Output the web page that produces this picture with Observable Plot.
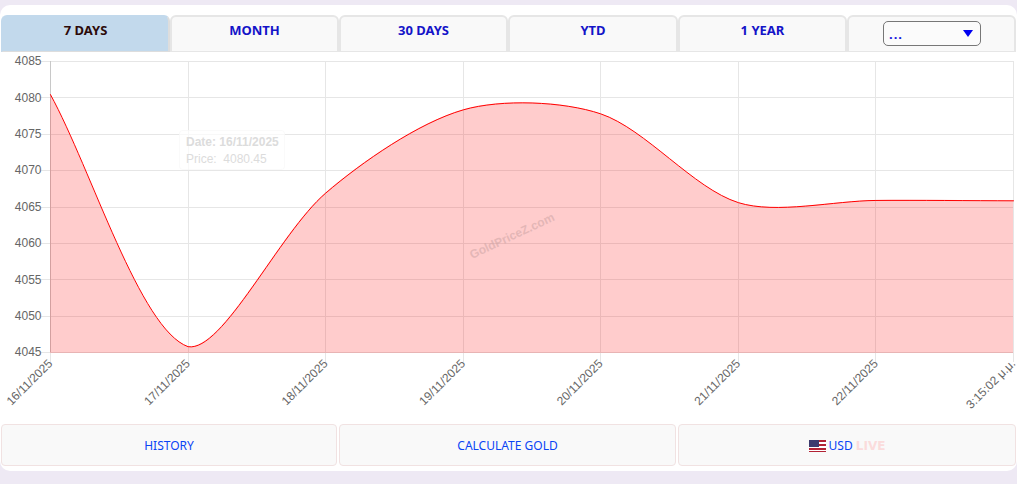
<!DOCTYPE html>
<html>
<head>
<meta charset="utf-8">
<script src="https://cdn.jsdelivr.net/npm/d3@7"></script>
<script src="https://cdn.jsdelivr.net/npm/@observablehq/plot@0.6"></script>
<style>
html,body{margin:0;padding:0;background:#eee9f4;width:1017px;height:484px;overflow:hidden;}
#panel{position:absolute;left:0;top:5px;width:1017px;height:466px;background:#fff;border-radius:10px;}
.tab,.btn{position:absolute;box-sizing:border-box;text-align:center;background:#f9f9f9;font-family:"Noto Sans",sans-serif;}
.tab{top:15px;height:37px;border:2px solid #e6e6e6;border-bottom-width:1px;border-radius:6px 6px 0 0;font-weight:700;font-size:13px;line-height:27px;color:#1414c8;}
.tab.on{background:#c2d9ec;border-color:#c2d9ec #ddd #ddd #c2d9ec;color:#2c0a0a;}
.btn{top:424px;height:42px;border:1px solid #f1e2e2;border-radius:4px;font-size:12px;line-height:42px;color:#0a44f5;}
#sel{position:absolute;left:883px;top:21px;width:98px;height:25px;box-sizing:border-box;border:1px solid #777;border-radius:5px;background:#fbfbfb;color:#1414e0;font:700 13px/24px "Noto Sans",sans-serif;padding-left:5px;letter-spacing:1px;}
#sel i{position:absolute;right:7px;top:8px;width:0;height:0;border-left:5px solid transparent;border-right:5px solid transparent;border-top:7px solid #0000f0;}
#chart{position:absolute;left:0;top:0;}
#chart svg{background:transparent;display:block;}
#tip{position:absolute;left:179px;top:130px;width:106px;height:40px;box-sizing:border-box;border:1px solid rgba(230,230,230,.2);border-radius:4px;background:rgba(255,255,255,.72);font:12px/17px "Liberation Sans",Arial,sans-serif;color:#dcdcdc;padding:3px 0 0 6px;white-space:pre;}
#tip b{font-weight:700;}
.live{color:#fbdcdc;font:700 12px "DejaVu Sans",sans-serif;}
.flag{display:inline-block;vertical-align:-2px;margin-right:3px;}
</style>
</head>
<body>
<div id="panel"></div>
<div id="chart"></div>
<div id="tip"><b>Date: 16/11/2025</b>
Price:  4080.45</div>
<div id="tabs"></div>
<div id="sel">...<i></i></div>
<div class="btn" style="left:1px;width:336px">HISTORY</div>
<div class="btn" style="left:339px;width:337px">CALCULATE GOLD</div>
<div class="btn" style="left:678px;width:338px"><svg class="flag" width="17" height="12" viewBox="0 0 17 12"><rect width="17" height="12" fill="#fff"/><rect width="17" height="2" fill="#b22234"/><rect y="4" width="17" height="2" fill="#b22234"/><rect y="8" width="17" height="2" fill="#b22234"/><rect y="11" width="17" height="1" fill="#b22234"/><rect width="10" height="7" fill="#3c3b6e"/></svg>USD <span class="live">LIVE</span></div>
<script>
const dates = ["16/11/2025","17/11/2025","18/11/2025","19/11/2025","20/11/2025","21/11/2025","22/11/2025","3:15:02 μ.μ."];
const prices = [4080.45,4045.8,4066.9,4078.35,4077.8,4065.6,4065.9,4065.85];
const yTicks = [4045,4050,4055,4060,4065,4070,4075,4080,4085];
const tabLabels = ["7 DAYS","MONTH","30 DAYS","YTD","1 YEAR",""];
const tabLefts = [1,170,339,508,678,847];
const tabWidths = [169,169,169,170,169,169];

const tabs = document.getElementById("tabs");
tabLabels.forEach((t,i)=>{
  const d=document.createElement("div");
  d.className="tab"+(i===0?" on":"");
  d.style.left=tabLefts[i]+"px";d.style.width=tabWidths[i]+"px";
  d.textContent=t;tabs.appendChild(d);
});

const W=1017,H=420,mL=50,mR=4,mT=61,mB=68;

// Distance-weighted bezier with control points capped to the plot frame.
function weightedBezier(tension){
  return function(ctx){
    let pts=[],inArea=false,lineNo=0;
    const cap=(v,a,b)=>Math.max(a,Math.min(b,v));
    return {
      areaStart(){inArea=true;lineNo=0;},
      areaEnd(){ctx.closePath();inArea=false;},
      lineStart(){pts=[];},
      point(x,y){pts.push([+x,+y]);},
      lineEnd(){
        const n=pts.length;
        const ctl=pts.map((p,i)=>{
          const a=pts[Math.max(i-1,0)],b=pts[Math.min(i+1,n-1)];
          const d0=Math.hypot(p[0]-a[0],p[1]-a[1]),d1=Math.hypot(b[0]-p[0],b[1]-p[1]);
          const s=d0+d1||1,fa=tension*d0/s,fb=tension*d1/s;
          const dx=b[0]-a[0],dy=b[1]-a[1];
          return {
            px:cap(p[0]-fa*dx,mL,W-mR),py:cap(p[1]-fa*dy,mT,H-mB),
            nx:cap(p[0]+fb*dx,mL,W-mR),ny:cap(p[1]+fb*dy,mT,H-mB)
          };
        });
        if(n){
          if(inArea&&lineNo>0)ctx.lineTo(pts[0][0],pts[0][1]);else ctx.moveTo(pts[0][0],pts[0][1]);
          for(let i=1;i<n;i++)ctx.bezierCurveTo(ctl[i-1].nx,ctl[i-1].ny,ctl[i].px,ctl[i].py,pts[i][0],pts[i][1]);
        }
        lineNo++;
      }
    };
  };
}
const smooth = weightedBezier(0.3);

const rows = dates.map((d,i)=>({date:d,price:prices[i]}));
const fig = Plot.plot({
  width:W,height:H,
  marginLeft:mL,marginRight:mR,marginTop:mT,marginBottom:mB,
  style:{background:"transparent",fontFamily:"'Liberation Sans',Arial,sans-serif",fontSize:"12px",color:"#666"},
  x:{type:"point",domain:dates,padding:0,round:false,label:null},
  y:{domain:[4045,4085],label:null},
  marks:[
    Plot.ruleX(dates,{x:d=>d,y1:4045,y2:4085,stroke:"#e6e6e6",strokeOpacity:1,shapeRendering:"crispEdges"}),
    Plot.ruleY(yTicks,{stroke:"#e6e6e6",strokeOpacity:1,shapeRendering:"crispEdges"}),
    Plot.axisY({ticks:yTicks,tickFormat:"d",tickSize:9,tickPadding:0,stroke:"#e6e6e6",label:null,fill:"#666",strokeOpacity:1,shapeRendering:"crispEdges"}),
    Plot.axisX({tickRotate:-45,tickSize:10,tickPadding:-1,stroke:"#e6e6e6",label:null,fill:"#666",strokeOpacity:1,shapeRendering:"crispEdges"}),
    Plot.ruleX([dates[0]],{x:d=>d,y1:4045,y2:4085,stroke:"#c8c8c8",shapeRendering:"crispEdges"}),
    Plot.areaY(rows,{x:"date",y1:4045,y2:"price",fill:"#ff0000",fillOpacity:0.2,curve:smooth}),
    Plot.ruleY([4045],{stroke:"#e8b4b4",shapeRendering:"crispEdges"}),
    Plot.lineY(rows,{x:"date",y:"price",stroke:"#ff0000",strokeWidth:1,curve:smooth}),
    Plot.text(["GoldPriceZ.com"],{frameAnchor:"middle",dx:-20,dy:29,rotate:-25,fontSize:12,fontWeight:700,fill:"#c8a0a0",fillOpacity:.5})
  ]
});
document.getElementById("chart").appendChild(fig);
</script>
</body>
</html>
